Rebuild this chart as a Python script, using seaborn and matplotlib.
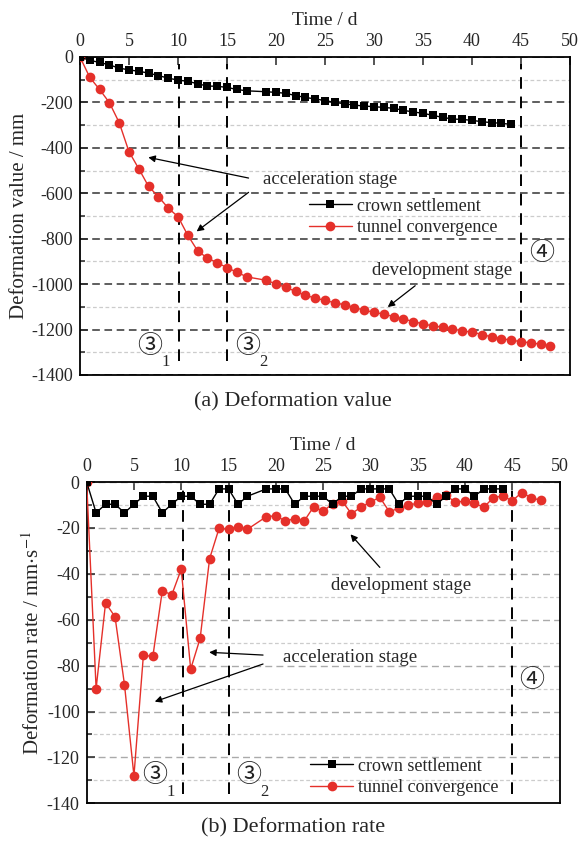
"""Tunnel deformation: cumulative value (a) and rate (b)."""

import numpy as np
import pandas as pd
import matplotlib
matplotlib.use('Agg')
import matplotlib.pyplot as plt
from matplotlib.ticker import MultipleLocator
import seaborn as sns

# day 18 was not measured
crown_days = list(range(0, 18)) + list(range(19, 45))
conv_days = list(range(0, 18)) + list(range(19, 49))

crown_value = [0, -15, -24, -35, -49, -57, -63, -71, -82, -93, -102, -107, -118,
               -128, -129, -134, -143, -149,
               -153, -156, -160, -170, -178, -185, -192, -200, -206, -212, -216,
               -219, -222, -226, -235, -242, -248, -257, -266, -273, -275, -279,
               -285, -289, -292, -297]
conv_value = [0, -90, -143, -201, -289, -417, -492, -570, -615, -665, -703, -785,
              -853, -886, -905, -928, -947, -968,
              -983, -999, -1014, -1032, -1050, -1061, -1072, -1082, -1091, -1103,
              -1115, -1124, -1132, -1143, -1153, -1165, -1175, -1184, -1189, -1197,
              -1206, -1211, -1222, -1232, -1240, -1247, -1253, -1259, -1264, -1272]

crown_rate = [0, -13.4, -9.7, -9.7, -13.4, -9.7, -6.2, -6.2, -13.4, -9.7, -6.2, -6.2,
              -9.7, -9.7, -3.0, -3.0, -9.7, -6.2,
              -3.0, -3.0, -3.0, -9.7, -6.2, -6.2, -6.2, -9.7, -6.2, -6.2, -3.0, -3.0,
              -3.0, -3.0, -9.7, -6.2, -6.2, -6.2, -9.7, -6.2, -3.0, -3.0, -6.2, -3.0,
              -3.0, -3.0]
conv_rate = [0, -90, -52.7, -58.7, -88.3, -128, -75.5, -76, -47.3, -49.2, -38, -81.5,
             -68.1, -33.4, -20.2, -20.6, -19.5, -20.6,
             -15.1, -14.7, -17.0, -16.0, -17.0, -10.8, -12.8, -9.4, -8.3, -13.8, -11.0,
             -8.7, -6.7, -12.9, -11.5, -10.0, -9.3, -8.6, -6.7, -5.8, -8.9, -8.2, -9.3,
             -11.0, -6.8, -6.1, -8.2, -4.6, -6.8, -8.0]

stage_lines = [10.15, 15, 45]
x_ticks = list(range(0, 55, 5))

sns.set_style('ticks')
plt.rcParams['font.family'] = ['Liberation Serif', 'DejaVu Sans']
plt.rcParams['mathtext.fontset'] = 'stix'
plt.rcParams['axes.unicode_minus'] = False

RED = '#e5302a'
fig = plt.figure(figsize=(5.8, 8.44), dpi=100)
ax1 = fig.add_axes([0.1379, 0.5557, 0.8449, 0.3768])
ax2 = fig.add_axes([0.1494, 0.0482, 0.8153, 0.3807])


def draw_series(ax, days_a, vals_a, days_b, vals_b):
    df_a = pd.DataFrame({'day': days_a, 'val': vals_a})
    df_b = pd.DataFrame({'day': days_b, 'val': vals_b})
    sns.lineplot(data=df_a, x='day', y='val', ax=ax, color='black', lw=1,
                 marker='s', markersize=5.8, markeredgewidth=0, label='crown settlement',
                 zorder=4)
    sns.lineplot(data=df_b, x='day', y='val', ax=ax, color=RED, lw=1,
                 marker='o', markersize=7, markeredgewidth=0, label='tunnel convergence',
                 zorder=3)


def style_axes(ax, ymin, ymaj, ymin_step):
    ax.set_xlim(0, 50)
    ax.set_ylim(ymin, 0)
    ax.xaxis.tick_top()
    ax.xaxis.set_label_position('top')
    ax.set_xticks(x_ticks)
    ax.yaxis.set_major_locator(MultipleLocator(ymaj))
    ax.yaxis.set_minor_locator(MultipleLocator(ymin_step))
    ax.tick_params(axis='both', which='both', direction='in', labelsize=13,
                   width=1.1, pad=5)
    ax.tick_params(axis='both', which='major', length=6)
    ax.tick_params(axis='y', which='minor', length=3.5)
    ax.set_xlabel('Time / d', fontsize=14, labelpad=6)
    for s in ax.spines.values():
        s.set_linewidth(1.3)
        s.set_color('black')
        s.set_visible(True)


def circled(ax, x, y, num, sub, dx, dy):
    ax.text(x, y, num, fontsize=18, ha='center', va='center',
            family=['Noto Sans CJK JP', 'DejaVu Sans'], color='#222222')
    if sub:
        ax.text(x + dx, y - dy, sub, fontsize=12, ha='center', va='center')


# (a) deformation value
draw_series(ax1, crown_days, crown_value, conv_days, conv_value)
style_axes(ax1, -1400, 200, 100)
ax1.grid(axis='y', which='major', ls=(0, (5, 3)), color='#333333', lw=1.1)
ax1.grid(axis='y', which='minor', ls=(0, (3, 2)), color='#cccccc', lw=0.9)
ax1.set_ylabel('Deformation value / mm', fontsize=15, labelpad=2)
ax1.vlines(stage_lines, -1340, -30, colors='black', linestyles=(0, (6, 4)), lw=1.4, zorder=2)
ax1.legend(loc='upper left', bbox_to_anchor=(0.467, 0.5575), frameon=False,
           fontsize=13, handlelength=2.4, handletextpad=0.25, labelspacing=0.25,
           borderpad=0, borderaxespad=0)

arrow = dict(arrowstyle='-|>', color='black', lw=0.9, mutation_scale=10, shrinkA=0, shrinkB=0)
ax1.text(18.7, -540, 'acceleration stage', fontsize=13.5, ha='left', va='center')
ax1.annotate('', xy=(6.97, -442), xytext=(17.2, -533), arrowprops=arrow)
ax1.annotate('', xy=(11.9, -768), xytext=(17.2, -596), arrowprops=arrow)
ax1.text(36.9, -941, 'development stage', fontsize=13.5, ha='center', va='center')
ax1.annotate('', xy=(31.4, -1101), xytext=(34.2, -1007), arrowprops=arrow)
circled(ax1, 7.1, -1272, '③', '1', 1.6, 72)
circled(ax1, 17.1, -1272, '③', '2', 1.6, 72)
circled(ax1, 47.1, -863, '④', None, 0, 0)

# (b) deformation rate
draw_series(ax2, crown_days, crown_rate, conv_days, conv_rate)
style_axes(ax2, -140, 20, 10)
ax2.grid(axis='y', which='major', ls=(0, (5, 3)), color='#aaaaaa', lw=1.0)
ax2.grid(axis='y', which='minor', ls=(0, (3, 2)), color='#cccccc', lw=0.9)
ax2.set_ylabel(r'Deformation rate / mm$\cdot$s$^{-1}$', fontsize=15, labelpad=2)
ax2.vlines(stage_lines, -136, -1, colors='black', linestyles=(0, (6, 4)), lw=1.4, zorder=2)
ax2.legend(loc='upper left', bbox_to_anchor=(0.472, 0.142), frameon=False,
           fontsize=13, handlelength=2.4, handletextpad=0.25, labelspacing=0.25,
           borderpad=0, borderaxespad=0)
ax2.text(20.8, -76.4, 'acceleration stage', fontsize=13.5, ha='left', va='center')
ax2.annotate('', xy=(12.95, -74.2), xytext=(18.65, -75.4), arrowprops=arrow)
ax2.annotate('', xy=(7.2, -95.7), xytext=(18.65, -79.3), arrowprops=arrow)
ax2.text(33.2, -44.9, 'development stage', fontsize=13.5, ha='center', va='center')
ax2.annotate('', xy=(27.9, -22.8), xytext=(31.0, -37.2), arrowprops=arrow)
circled(ax2, 7.2, -127.5, '③', '1', 1.65, 7.4)
circled(ax2, 17.1, -127.5, '③', '2', 1.65, 7.4)
circled(ax2, 47.05, -86.3, '④', None, 0, 0)

fig.text(0.505, 1 - 402 / 844, '(a) Deformation value', fontsize=16, ha='center', va='center')
fig.text(0.505, 1 - 828 / 844, '(b) Deformation rate', fontsize=16, ha='center', va='center')

fig.savefig('out.png', dpi=100)
